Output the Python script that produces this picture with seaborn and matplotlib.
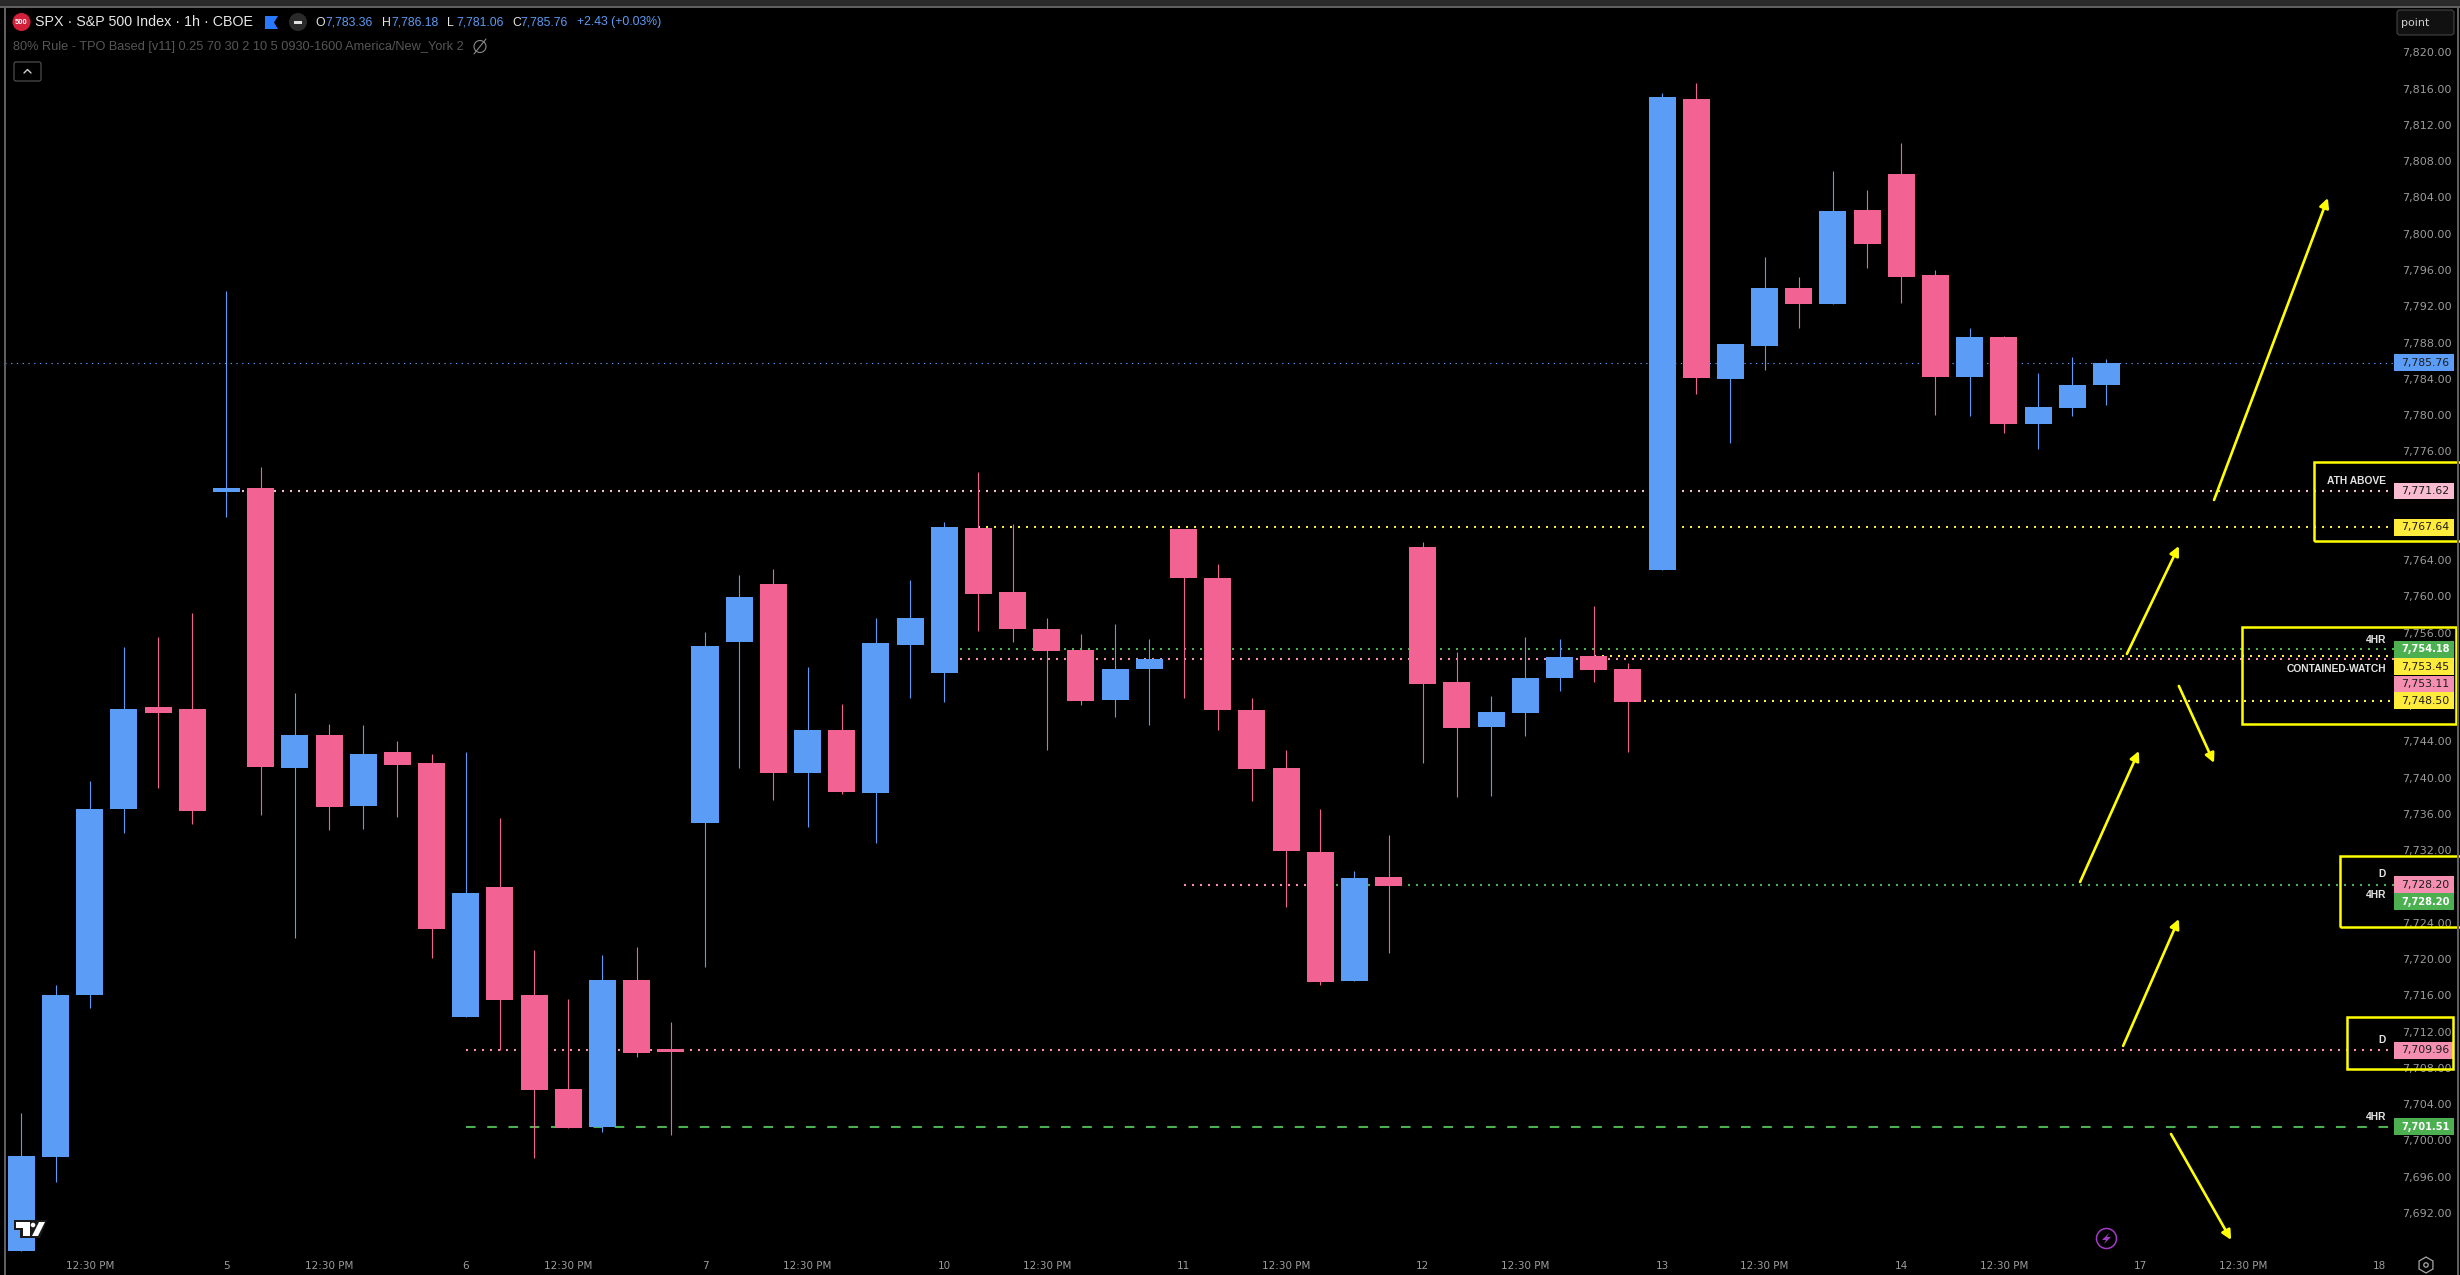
import numpy as np
import pandas as pd
import matplotlib.pyplot as plt
from matplotlib.patches import Rectangle, Circle, Polygon, FancyBboxPatch, RegularPolygon
import seaborn as sns

# hourly candles, bar 0 is the first one on screen
opens = [7687.81, 7698.17, 7716.04, 7736.56, 7747.81, 7747.58, 7771.52, 7771.96, 7741.08, 7744.72,
         7736.89, 7742.84, 7741.63, 7713.62, 7727.95, 7716.04, 7705.67, 7701.48, 7717.70, 7710.09,
         7735.01, 7754.97, 7761.37, 7740.53, 7745.27, 7738.32, 7754.64, 7751.55, 7767.55, 7760.49,
         7756.41, 7754.09, 7748.58, 7752.00, 7767.44, 7762.03, 7747.47, 7741.08, 7731.81, 7717.59,
         7729.06, 7765.45, 7750.56, 7745.60, 7747.14, 7751.00, 7753.43, 7752.00, 7762.91, 7814.86,
         7783.98, 7787.62, 7794.02, 7792.25, 7802.62, 7806.59, 7795.45, 7784.20, 7788.61, 7779.02,
         7780.78, 7783.36]
closes = [7698.28, 7716.04, 7736.56, 7747.58, 7747.14, 7736.33, 7771.96, 7741.19, 7744.72, 7736.78,
          7742.62, 7741.41, 7723.32, 7727.29, 7715.49, 7705.56, 7701.37, 7717.70, 7709.64, 7709.75,
          7754.53, 7759.94, 7740.53, 7745.27, 7738.43, 7754.86, 7757.62, 7767.66, 7760.27, 7756.41,
          7753.98, 7748.47, 7752.00, 7753.10, 7762.03, 7747.47, 7740.97, 7731.92, 7717.48, 7728.95,
          7728.06, 7750.34, 7745.49, 7747.25, 7751.00, 7753.32, 7751.89, 7748.36, 7815.08, 7784.09,
          7787.84, 7794.02, 7792.25, 7802.51, 7798.87, 7795.23, 7784.20, 7788.61, 7779.02, 7780.89,
          7783.32, 7785.76]
highs = [7703.03, 7717.14, 7739.64, 7754.42, 7755.53, 7758.17, 7793.69, 7774.27, 7749.35, 7745.93,
         7745.82, 7744.06, 7742.62, 7742.84, 7735.56, 7721.00, 7715.60, 7720.45, 7721.33, 7713.06,
         7756.08, 7762.36, 7763.03, 7752.22, 7748.14, 7757.62, 7761.81, 7768.21, 7773.72, 7767.99,
         7757.62, 7755.86, 7756.96, 7755.30, 7767.44, 7763.58, 7748.80, 7743.06, 7736.56, 7729.72,
         7733.69, 7766.00, 7753.87, 7749.02, 7755.53, 7755.30, 7758.94, 7752.66, 7815.52, 7816.63,
         7787.84, 7797.44, 7795.23, 7806.92, 7804.82, 7810.01, 7796.00, 7789.60, 7788.72, 7784.64,
         7786.41, 7786.18]
lows = [7687.81, 7695.42, 7714.61, 7733.91, 7738.87, 7734.90, 7768.76, 7735.89, 7722.33, 7734.24,
        7734.35, 7735.67, 7720.12, 7713.62, 7709.98, 7698.06, 7701.37, 7700.93, 7709.20, 7700.60,
        7719.13, 7741.08, 7737.55, 7734.57, 7738.21, 7732.81, 7748.80, 7748.36, 7756.19, 7754.97,
        7743.06, 7748.03, 7746.70, 7745.82, 7748.80, 7745.27, 7737.44, 7725.75, 7717.14, 7717.59,
        7720.67, 7741.63, 7737.88, 7737.99, 7744.61, 7749.57, 7750.56, 7742.84, 7762.91, 7782.33,
        7776.92, 7784.97, 7789.60, 7792.25, 7796.22, 7792.36, 7780.01, 7779.90, 7778.02, 7776.26,
        7779.90, 7781.06]

# axis ticks
price_ticks = list(range(7692, 7821, 4))
time_tick_bars = [2, 6, 9, 13, 16, 20, 23, 27, 30, 34, 37, 41, 44, 48, 51, 55, 58, 62, 65, 69]
time_tick_labels = ['12:30 PM', '5', '12:30 PM', '6', '12:30 PM', '7', '12:30 PM', '10', '12:30 PM', '11',
                    '12:30 PM', '12', '12:30 PM', '13', '12:30 PM', '14', '12:30 PM', '17', '12:30 PM', '18']

# levels drawn on the chart: price, first bar, last bar, colour
level_prices = [7771.62, 7767.64, 7754.18, 7753.45, 7753.11, 7748.50, 7728.20, 7728.20, 7709.96]
level_starts = [6, 28, 27, 46, 27, 47, 34, 38, 13]
level_ends = [70, 70, 70, 70, 70, 70, 38, 70, 70]
level_colors = ['#f8bbd0', '#ffeb3b', '#4caf50', '#ffeb3b', '#f48fb1', '#ffeb3b', '#f48fb1', '#4caf50', '#f48fb1']
dashed_price = 7701.51
dashed_start = 13
last_price = 7785.76

# price tags on the scale (tag_spots is where the tag sits once they are stacked)
tag_texts = ['7,771.62', '7,767.64', '7,754.18', '7,753.45', '7,753.11', '7,748.50', '7,728.20', '7,728.20',
             '7,709.96', '7,701.51', '7,785.76']
tag_spots = [7771.62, 7767.64, 7754.18, 7752.22, 7750.34, 7748.50, 7728.20, 7726.33, 7709.96, 7701.51, 7785.76]
tag_colors = ['#f8bbd0', '#ffeb3b', '#4caf50', '#ffeb3b', '#f48fb1', '#ffeb3b', '#f48fb1', '#4caf50', '#f48fb1',
              '#4caf50', '#5b9cf6']
tag_inks = ['#1c1c1c', '#1c1c1c', '#ffffff', '#1c1c1c', '#1c1c1c', '#1c1c1c', '#1c1c1c', '#ffffff', '#1c1c1c',
            '#ffffff', '#1c1c1c']

# notes left of the tags
note_texts = ['ATH ABOVE', '4HR', 'CONTAINED-WATCH', 'D', '4HR', 'D', '4HR']
note_spots = [7772.73, 7755.20, 7752.00, 7729.40, 7727.07, 7711.08, 7702.58]

# hand drawn arrows and boxes, in bars and prices
arrows = [((64.15, 7770.63), (67.48, 7803.94)), ((61.60, 7753.65), (63.12, 7765.56)),
          ((63.12, 7750.12), (64.15, 7741.63)), ((60.23, 7728.50), (61.95, 7742.95)),
          ((61.49, 7710.42), (63.12, 7724.42)), ((62.89, 7700.71), (64.65, 7689.02))]
boxes = [(67.08, 71.6, 7766.11, 7774.83), (64.97, 71.23, 7745.93, 7756.63),
         (67.84, 71.6, 7723.54, 7731.37), (68.04, 71.14, 7707.88, 7713.62)]

BLUE = '#5b9cf6'
PINK = '#f26394'
YELLOW = '#ffff00'

sns.set_theme(style='dark', rc={'axes.facecolor': 'black', 'figure.facecolor': 'black',
                                'axes.grid': False})
plt.rcParams['font.family'] = ['DejaVu Sans']

df = pd.DataFrame({'bar': np.arange(len(opens)), 'open': opens, 'high': highs, 'low': lows, 'close': closes})
df['body_low'] = df[['open', 'close']].min(axis=1)
df['body'] = (df['close'] - df['open']).abs()
df['up'] = df['close'] >= df['open']

fig = plt.figure(figsize=(24.6, 12.75), dpi=100)
ax = fig.add_axes([5 / 2460, 1 - 1253 / 1275, 2390 / 2460, 1231 / 1275])
ax.set_facecolor('black')

# levels first, candles hide them
for price, start, end, color in zip(level_prices, level_starts, level_ends, level_colors):
    ax.hlines(price, start, end, color=color, lw=1.5, linestyles=(0, (0.96, 2.88)), zorder=1)
ax.hlines(dashed_price, dashed_start, 70, color='#4caf50', lw=1.5, linestyles=(0, (4.6, 5.6)), zorder=1)
ax.hlines(last_price, -1, 70, color=BLUE, lw=0.8, linestyles=(0, (1.2, 4)), zorder=1)

for is_up, color in [(True, BLUE), (False, PINK)]:
    part = df[df['up'] == is_up]
    ax.vlines(part['bar'], part['low'], part['high'], color=color, lw=0.8, zorder=2)
    sns.barplot(data=part, x='bar', y='body', bottom=part['body_low'].values, color=color, saturation=1,
                width=0.79, native_scale=True, errorbar=None, linewidth=0, zorder=3, ax=ax)

ax.set_xlim((5 - 21.4) / 34.18, (2395 - 21.4) / 34.18)
ax.set_ylim(7687.58, 7823.35)
ax.set_xlabel('')
ax.set_ylabel('')
ax.set_xticks(time_tick_bars)
ax.set_xticklabels(time_tick_labels)
ax.yaxis.tick_right()
ax.set_yticks(price_ticks)
ax.set_yticklabels([f'{p:,.2f}' for p in price_ticks])
ax.tick_params(axis='x', length=0, pad=6, labelsize=7.5, labelcolor='#9c9c9c')
ax.tick_params(axis='y', length=0, pad=5, labelsize=8, labelcolor='#9c9c9c')
for spine in ax.spines.values():
    spine.set_visible(False)

# price tags
for text, spot, color, ink in zip(tag_texts, tag_spots, tag_colors, tag_inks):
    ax.add_patch(Rectangle((69.41, spot - 0.93), 1.76, 1.86, facecolor=color, edgecolor='none',
                           clip_on=False, zorder=6))
    ax.text(69.62, spot, text, color=ink, fontsize=7.1 if ink == '#ffffff' else 7.8, va='center', ha='left',
            clip_on=False, zorder=7, fontweight='bold' if ink == '#ffffff' else 'normal')

for text, spot in zip(note_texts, note_spots):
    ax.text(69.18, spot, text, color='#e4e4e4', fontsize=7.4, va='center', ha='right', zorder=7,
            clip_on=False, family='Liberation Sans', fontweight='bold')

for tail, tip in arrows:
    ax.annotate('', xy=tip, xytext=tail, annotation_clip=False, zorder=8,
                arrowprops=dict(arrowstyle='-|>', color=YELLOW, lw=1.9, shrinkA=0, shrinkB=0, mutation_scale=14))

for x0, x1, y0, y1 in boxes:
    ax.add_patch(Rectangle((x0, y0), x1 - x0, y1 - y0, fill=False, edgecolor=YELLOW, lw=1.8,
                           clip_on=False, zorder=8))

# everything around the chart, in screen pixels
ov = fig.add_axes([0, 0, 1, 1], zorder=10)
ov.set_xlim(0, 2460)
ov.set_ylim(1275, 0)
ov.axis('off')

ov.add_patch(Rectangle((0, 0), 2460, 6, facecolor='#2a2a2a', edgecolor='none'))
ov.add_patch(Rectangle((0, 6), 2460, 2, facecolor='#5f5f5f', edgecolor='none'))
ov.add_patch(Rectangle((4, 6), 2, 1269, facecolor='#5f5f5f', edgecolor='none'))
ov.add_patch(Rectangle((2457, 6), 2, 1269, facecolor='#5f5f5f', edgecolor='none'))

head_font = 'Liberation Sans'
ov.add_patch(Circle((21.5, 22), 9, facecolor='#d3203a', edgecolor='none'))
ov.text(21.5, 22.5, '500', color='white', fontsize=5.5, ha='center', va='center', family=head_font, fontweight='bold')
ov.text(35, 22.5, 'SPX · S&P 500 Index · 1h · CBOE', color='#e6e6e6', fontsize=10.3, va='center', family=head_font)
ov.add_patch(Polygon([(265, 16), (278, 16), (274, 22.5), (278, 29), (265, 29)], facecolor='#2979ff', edgecolor='none'))
ov.add_patch(Circle((298, 22), 9, facecolor='#2a2a2a', edgecolor='none'))
ov.add_patch(Rectangle((294, 21), 8, 3, facecolor='#e0e0e0', edgecolor='none'))

for x, text, color in [(315, 'O', '#e6e6e6'), (325, '7,783.36', BLUE), (382, 'H', '#e6e6e6'), (391, '7,786.18', BLUE),
                       (447, 'L', '#e6e6e6'), (456, '7,781.06', BLUE), (512, 'C', '#e6e6e6'), (520, '7,785.76', BLUE),
                       (577, '+2.43 (+0.03%)', BLUE)]:
    ov.text(x, 22.5, text, color=color, fontsize=8.8, va='center', family=head_font)

ov.text(13, 47, '80% Rule - TPO Based [v11] 0.25 70 30 2 10 5 0930-1600 America/New_York 2', color='#565656',
        fontsize=9.15, va='center', family=head_font)
ov.add_patch(Circle((480, 46.5), 6, fill=False, edgecolor='#8a8a8a', lw=0.8))
ov.plot([474, 486], [54, 39], color='#8a8a8a', lw=0.8)

ov.add_patch(FancyBboxPatch((14, 62), 27, 19, boxstyle='round,pad=0,rounding_size=2', fill=False,
                            edgecolor='#555555', lw=0.8))
ov.plot([24, 27.5, 31], [73, 69.5, 73], color='#d0d0d0', lw=1)

ov.add_patch(FancyBboxPatch((2397, 10), 57, 25, boxstyle='round,pad=0,rounding_size=3', facecolor='#111111',
                            edgecolor='#444444', lw=0.8))
ov.text(2401, 23, 'point', color='#d0d0d0', fontsize=8, va='center')

# tradingview mark
ov.add_patch(Polygon([(14, 1220), (47, 1220), (40, 1238), (20, 1238), (20, 1230), (14, 1230)], facecolor='#1a1a1a',
                     edgecolor='none'))
ov.add_patch(Polygon([(16, 1222), (30, 1222), (30, 1236), (23, 1236), (23, 1228), (16, 1228)], facecolor='white',
                     edgecolor='none'))
ov.add_patch(Circle((33, 1225), 2.3, facecolor='white', edgecolor='none'))
ov.add_patch(Polygon([(39, 1222), (45, 1222), (38, 1236), (32, 1236)], facecolor='white', edgecolor='none'))

# lightning badge and settings
ov.add_patch(Circle((2106.5, 1238.5), 10, fill=False, edgecolor='#a23cc4', lw=1.1))
ov.add_patch(Polygon([(2109, 1233), (2102, 1240), (2106, 1240), (2104, 1244), (2111, 1237), (2107, 1237)],
                     facecolor='#a23cc4', edgecolor='none'))
ov.add_patch(RegularPolygon((2426, 1265), 6, radius=8, fill=False, edgecolor='#a8a8a8', lw=0.9))
ov.add_patch(Circle((2426, 1265), 2.2, fill=False, edgecolor='#a8a8a8', lw=0.9))

fig.savefig('out.png', dpi=100, facecolor='black')
